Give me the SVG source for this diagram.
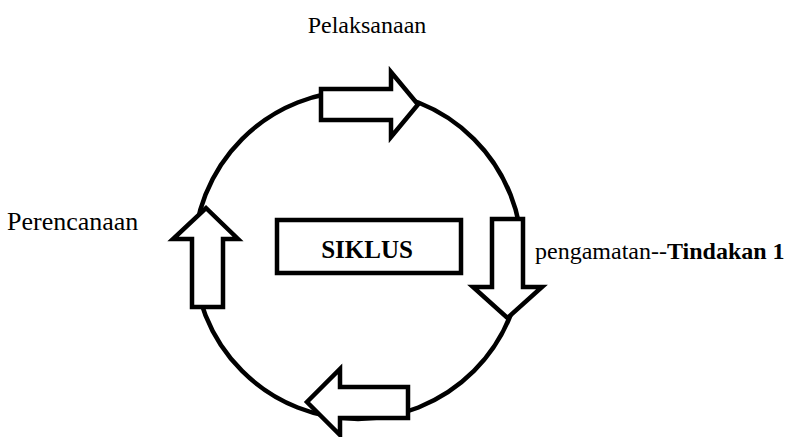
<svg xmlns="http://www.w3.org/2000/svg" width="788" height="437" viewBox="0 0 788 437">
<style>
.t{font-family:"Liberation Serif","Times New Roman",serif;fill:#000}
.ar{fill:#fff;stroke:#000;stroke-width:4.5;stroke-linejoin:miter;stroke-miterlimit:10}
.cy{fill:none;stroke:#000;stroke-width:4.5}
</style>
<rect width="788" height="437" fill="#fff"/>
<g id="connectors">
<circle class="cy" cx="358" cy="255" r="164"/>
</g>
<g id="arrow-top"><polygon class="ar" points="321,89 391,89 391,72 418,104.5 391,137 391,120 321,120"/></g>
<g id="arrow-right"><polygon class="ar" points="492,219 523,219 523,287 542,287 507.5,318 473,287 492,287"/></g>
<g id="arrow-bottom"><polygon class="ar" points="408,387 340,387 340,369 307,402 340,435 340,418 408,418"/></g>
<g id="arrow-left"><polygon class="ar" points="192,307 223,307 223,239 238,239 206,208 173,239 192,239"/></g>
<g id="siklus"><rect x="277" y="220" width="184" height="53" fill="#fff" stroke="#000" stroke-width="4.5"/>
<text class="t" x="367" y="258" font-size="25" font-weight="bold" text-anchor="middle">SIKLUS</text></g>
<g id="pelaksanaan"><text class="t" x="367" y="33" font-size="24" text-anchor="middle">Pelaksanaan</text></g>
<g id="perencanaan"><text class="t" x="7" y="230" font-size="26">Perencanaan</text></g>
<g id="pengamatan"><text class="t" x="535" y="259" font-size="24">pengamatan--<tspan font-weight="bold">Tindakan 1</tspan></text></g>
</svg>
